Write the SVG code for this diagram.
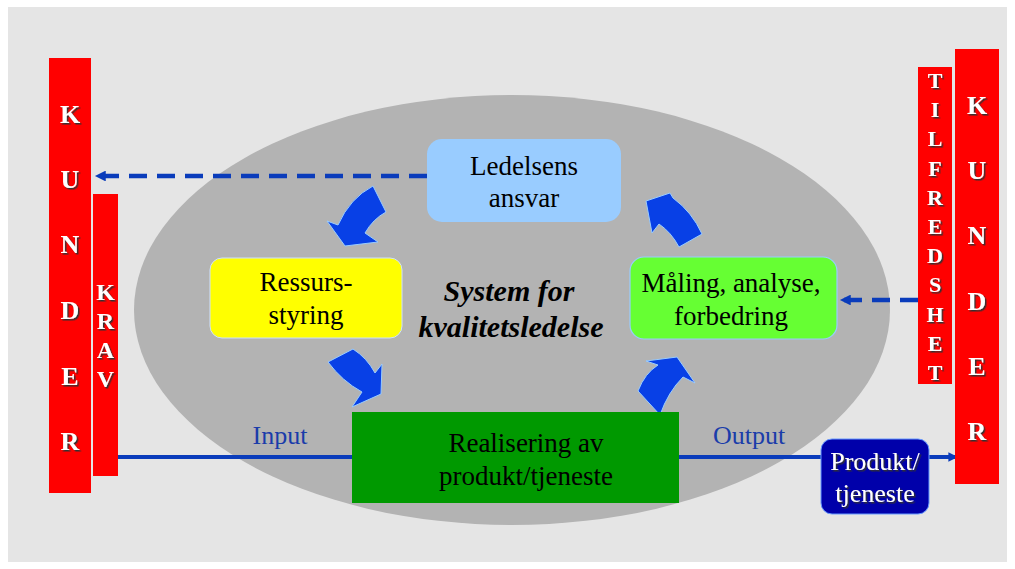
<svg xmlns="http://www.w3.org/2000/svg" width="1015" height="569" viewBox="0 0 1015 569">
<defs>
<filter id="sh" x="-20%" y="-20%" width="140%" height="140%">
<feDropShadow dx="1.5" dy="1.5" stdDeviation="0.3" flood-color="#333333" flood-opacity="1"/>
</filter>
<marker id="ah" viewBox="0 0 10 10" refX="9" refY="5" markerWidth="3" markerHeight="2.4" orient="auto" markerUnits="strokeWidth">
<path d="M0,0 L10,5 L0,10 Z" fill="#0a3cbb"/>
</marker>
</defs>
<style>
.bar{fill:#ff0000}
text{font-family:"Liberation Serif","Times New Roman",serif}
.lt{font-weight:bold;fill:#ffffff;text-anchor:middle;filter:url(#sh)}
.nt{font-size:27px;fill:#000000;text-anchor:middle}
.wt{font-size:26px;fill:#ffffff;filter:url(#sh)}
.sys{font-size:30px;font-weight:bold;font-style:italic;text-anchor:middle;fill:#000000}
.arc{fill:#0840e6;stroke:#99ccff;stroke-width:1}
.dash{stroke:#0a3cbb;stroke-width:4.5;stroke-dasharray:18 10;fill:none}
.flow{stroke:#0a3cbb;stroke-width:4;fill:none}
.lbl{font-size:26px;fill:#1a3caa;text-anchor:middle}
</style>
<rect x="0" y="0" width="1015" height="569" fill="#ffffff"/>
<rect x="8" y="7" width="999" height="555" fill="#e5e5e5"/>
<g id="system">
<ellipse cx="512" cy="310" rx="378" ry="215" fill="#b3b3b3"/>
<text class="sys" x="509" y="301">System for</text>
<text class="sys" x="511" y="337">kvalitetsledelse</text>
</g>
<g id="connectors">
<line class="dash" x1="427" y1="176" x2="96" y2="176" marker-end="url(#ah)"/>
<line class="dash" x1="918" y1="300" x2="841" y2="300" stroke-dasharray="14 9" marker-end="url(#ah)"/>
<line class="flow" x1="118" y1="457" x2="352" y2="457"/>
<line class="flow" x1="679" y1="457" x2="821" y2="457"/>
<line class="flow" x1="929" y1="457" x2="957" y2="457" marker-end="url(#ah)"/>
<path class="arc" d="M373,186 Q350,198 338,225 L327,221 L345,246 L378,242 L365,233 Q373,219 386,212 Z"/>
<path class="arc" d="M353,349 Q367,358 375,373 L382,364 L381,394 L352,407 L362,392 Q342,381 328,362 Z"/>
<path class="arc" d="M702,234 Q692,212 673,198 L670,193 L646,201 L652,233 L659,224 Q671,232 679,247 Z"/>
<path class="arc" d="M638,391 Q645,373 658,365 L646,361 L677,357 L695,383 L683,377 Q668,392 660,415 Z"/>
<text class="lbl" x="280" y="444">Input</text>
<text class="lbl" x="749" y="444">Output</text>
</g>
<g id="kunder-left">
<rect class="bar" x="49" y="58" width="42" height="435"/>
<text class="lt" font-size="26" x="70" y="123">K</text>
<text class="lt" font-size="26" x="70" y="188">U</text>
<text class="lt" font-size="26" x="70" y="253">N</text>
<text class="lt" font-size="26" x="70" y="319">D</text>
<text class="lt" font-size="26" x="70" y="385">E</text>
<text class="lt" font-size="26" x="70" y="450">R</text>
</g>
<g id="krav">
<rect class="bar" x="93" y="194" width="25" height="282"/>
<text class="lt" font-size="24" x="105.5" y="300">K</text>
<text class="lt" font-size="24" x="105.5" y="329">R</text>
<text class="lt" font-size="24" x="105.5" y="358">A</text>
<text class="lt" font-size="24" x="105.5" y="387">V</text>
</g>
<g id="tilfredshet">
<rect class="bar" x="918" y="67" width="34" height="317"/>
<text class="lt" font-size="22" x="935" y="88">T</text>
<text class="lt" font-size="22" x="935" y="117">I</text>
<text class="lt" font-size="22" x="935" y="146">L</text>
<text class="lt" font-size="22" x="935" y="176">F</text>
<text class="lt" font-size="22" x="935" y="205">R</text>
<text class="lt" font-size="22" x="935" y="234">E</text>
<text class="lt" font-size="22" x="935" y="263">D</text>
<text class="lt" font-size="22" x="935" y="292">S</text>
<text class="lt" font-size="22" x="935" y="322">H</text>
<text class="lt" font-size="22" x="935" y="351">E</text>
<text class="lt" font-size="22" x="935" y="380">T</text>
</g>
<g id="kunder-right">
<rect class="bar" x="955" y="49" width="44" height="435"/>
<text class="lt" font-size="26" x="977" y="114">K</text>
<text class="lt" font-size="26" x="977" y="179">U</text>
<text class="lt" font-size="26" x="977" y="244">N</text>
<text class="lt" font-size="26" x="977" y="310">D</text>
<text class="lt" font-size="26" x="977" y="375">E</text>
<text class="lt" font-size="26" x="977" y="440">R</text>
</g>
<g id="ledelsens">
<rect x="427" y="139" width="194" height="83" rx="15" fill="#99ccff"/>
<text class="nt" x="524" y="175">Ledelsens</text>
<text class="nt" x="524" y="207">ansvar</text>
</g>
<g id="ressurs">
<rect x="210" y="258" width="192" height="80" rx="12" fill="#ffff00" stroke="#cce0ff" stroke-width="1"/>
<text class="nt" x="306" y="291">Ressurs-</text>
<text class="nt" x="306" y="324">styring</text>
</g>
<g id="maling">
<rect x="630" y="257" width="207" height="82" rx="14" fill="#66ff33" stroke="#99ccff" stroke-width="1.2"/>
<text class="nt" x="731" y="292">Måling, analyse,</text>
<text class="nt" x="731" y="325">forbedring</text>
</g>
<g id="realisering">
<rect x="352" y="412" width="327" height="91" fill="#009900"/>
<text class="nt" x="526" y="452">Realisering av</text>
<text class="nt" x="526" y="485">produkt/tjeneste</text>
</g>
<g id="produkt">
<rect x="821" y="439" width="108" height="75" rx="11" fill="#0000aa" stroke="#6699ff" stroke-width="1"/>
<text class="nt wt" x="875" y="470">Produkt/</text>
<text class="nt wt" x="875" y="502">tjeneste</text>
</g>
</svg>
